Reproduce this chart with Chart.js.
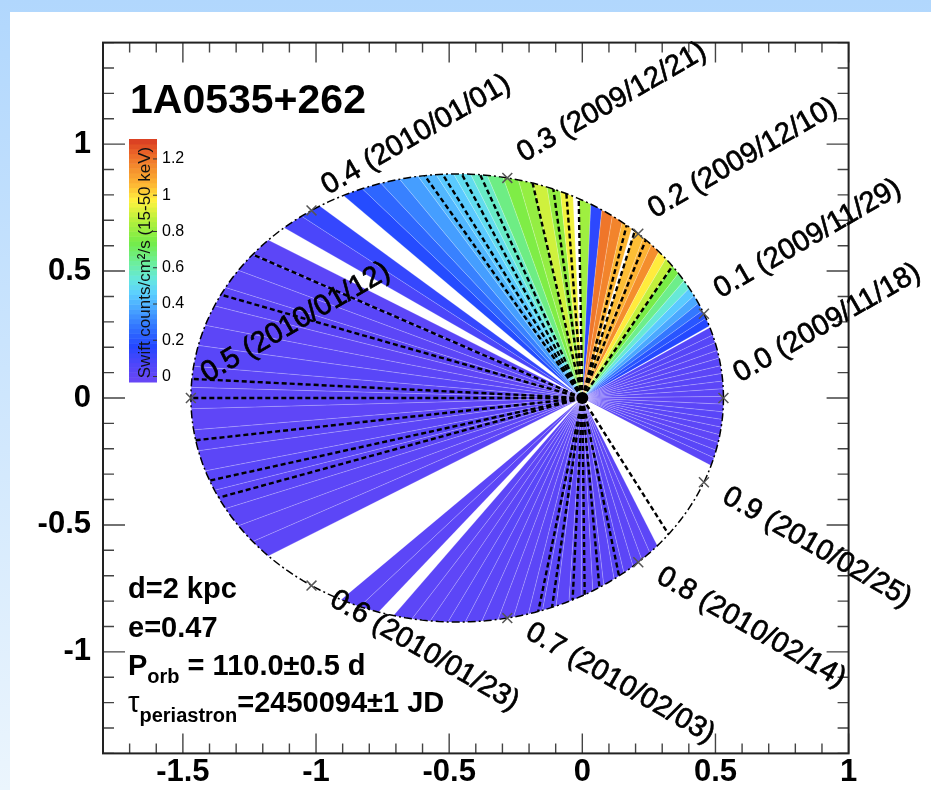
<!DOCTYPE html>
<html>
<head>
<meta charset="utf-8">
<script src="https://cdn.jsdelivr.net/npm/chart.js@4.4.1/dist/chart.umd.min.js"></script>
<style>
  html, body { margin: 0; padding: 0; }
  body { width: 931px; height: 790px; overflow: hidden; position: relative;
         background: linear-gradient(to bottom, #b1d7fd, #ebf5fd); }
  #panel { position: absolute; left: 10px; top: 12px; width: 921px; height: 778px; background: #fff; }
  canvas { display: block; }
</style>
</head>
<body>
<div id="panel"><canvas id="orbit" width="921" height="778"></canvas></div>
<script>
// orbit of 1A0535+262 (values from the plot labels)
const ecc = 0.47;
const semiMajor = 1.0;
const period = 110;          // days, phase 0 = periastron 2009/11/18

// Swift/BAT daily bins: start day after periastron, and rate (counts/cm2/s, 15-50 keV)
const binStart = [
  -8.8, -7.8, -6.8, -5.8, -4.8, -3.8, -2.8, -1.8, -0.8, 0.2, 1.2, 2.2, 3.2, 4.2, 5.2, 6.2, 7.2, 8.2,
  9.4, 10.4, 11.4, 12.4, 13.4, 14.4, 15.4, 16.4, 17.4, 18.4, 19.4, 20.4, 21.4,
  22.77, 23.77, 24.77, 25.77, 26.77, 28.27, 29.27, 30.27, 31.27, 32.27, 33.27, 34.27, 35.27,
  36.27, 37.27, 38.27, 39.27, 40.27, 41.27,
  43.55, 44.55,
  46.5, 47.5, 48.5, 49.5, 50.5, 51.5, 52.5, 53.5, 54.5, 55.5, 56.5, 57.5, 58.5, 59.5, 60.5, 61.5, 62.5,
  67.6, 68.6,
  70.4, 71.4, 72.4, 73.4, 74.4, 75.4, 76.4, 77.4, 78.4, 79.4, 80.4, 81.4, 82.4, 83.4, 84.4, 85.4,
  86.4, 87.4, 88.4, 89.4
];
const binRate = [
  0.02, 0.03, 0.02, 0.01, 0.02, 0.02, 0.03, 0.02, 0.01, 0.02, 0.02, 0.03, 0.02, 0.03, 0.02, 0.03, 0.04, 0.04,
  0.17, 0.2, 0.28, 0.38, 0.45, 0.55, 0.65, 0.75, 0.88, 0.98, 1.15, 1.07, 1.05,
  1.06, 1.17, 1.2, 0.15, 0.82, 0.95, 0.8, 0.9, 0.8, 0.76, 0.66, 0.57, 0.5,
  0.45, 0.41, 0.36, 0.3, 0.24, 0.18,
  0.13, 0.08,
  0.02, 0.03, 0.02, 0.02, 0.01, 0.02, 0.03, 0.02, 0.02, 0.01, 0.02, 0.02, 0.03, 0.02, 0.02, 0.01, 0.02,
  0.02, 0.02,
  0.02, 0.01, 0.02, 0.03, 0.02, 0.02, 0.01, 0.02, 0.02, 0.03, 0.02, 0.02, 0.01, 0.02, 0.02, 0.03,
  0.02, 0.02, 0.01, 0.02
];
const binWidth = 1;

// pointed observations (dashed lines), day after periastron
const pointingDay = [17.4, 21.1, 22.4, 23.3, 27.8, 28.8, 29.8, 31.3, 34.7, 35.8, 36.9, 37.9,
  47.5, 49.9, 54.1, 55.0, 57.0, 59.0, 59.9, 79.1, 80.1, 81.7, 82.7, 84.0, 85.9, 92.0];

// orbital phase marks
const phaseTicks = [0.0, 0.1, 0.2, 0.3, 0.4, 0.5, 0.6, 0.7, 0.8, 0.9];
const phaseDates = ['2009/11/18', '2009/11/29', '2009/12/10', '2009/12/21', '2010/01/01',
  '2010/01/12', '2010/01/23', '2010/02/03', '2010/02/14', '2010/02/25'];

// axes
const xTickValues = [-1.5, -1, -0.5, 0, 0.5, 1];
const yTickValues = [-1, -0.5, 0, 0.5, 1];
const colorTicks = [0, 0.2, 0.4, 0.6, 0.8, 1, 1.2];
const colorMin = -0.03, colorMax = 1.31;

// palette (value, colour)
const paletteStops = [
  [-0.03, '#6a46f5'], [0.08, '#4b46fa'], [0.17, '#2448ff'], [0.28, '#3377ff'], [0.38, '#4aa8ff'],
  [0.46, '#5ccfff'], [0.54, '#66e8dd'], [0.63, '#6cee9a'], [0.74, '#74ec48'], [0.86, '#b4f03c'],
  [0.97, '#fff23e'], [1.06, '#fdb734'], [1.16, '#f3892c'], [1.24, '#ea6228'], [1.31, '#d83a22']
];

function hexRgb(h) { return [1, 3, 5].map(i => parseInt(h.substr(i, 2), 16)); }
function rateColor(v) {
  const t = Math.max(colorMin, Math.min(colorMax, v));
  for (let i = 1; i < paletteStops.length; i++) {
    if (t <= paletteStops[i][0]) {
      const [v0, c0] = paletteStops[i - 1], [v1, c1] = paletteStops[i];
      const f = (t - v0) / (v1 - v0), a = hexRgb(c0), b = hexRgb(c1);
      return 'rgb(' + a.map((c, k) => Math.round(c + (b[k] - c) * f)).join(',') + ')';
    }
  }
  return paletteStops[paletteStops.length - 1][1];
}

// position on the orbit, focus at the origin (phase taken as true anomaly)
function rimPoint(day) {
  const nu = 2 * Math.PI * day / period;
  const r = semiMajor * (1 - ecc * ecc) / (1 + ecc * Math.cos(nu));
  return {x: r * Math.cos(nu), y: r * Math.sin(nu)};
}

const focus = {x: 0, y: 0};

const wedgeSets = binStart.map((s, i) => {
  const pts = [focus];
  for (let k = 0; k <= 4; k++) pts.push(rimPoint(s + binWidth * k / 4));
  pts.push(focus);
  return {
    data: pts, fill: 'shape', backgroundColor: rateColor(binRate[i]),
    borderColor: 'rgba(255,255,255,0.3)', borderWidth: 0.6, pointRadius: 0, order: 5
  };
});

const pointingSets = pointingDay.map(d => ({
  data: [focus, rimPoint(d)], borderColor: '#000', borderWidth: 2.4, borderDash: [5, 3],
  pointRadius: 0, fill: false, order: 3
}));

const orbitPts = [];
for (let k = 0; k <= 240; k++) orbitPts.push(rimPoint(period * k / 240));

const datasets = [
  {data: [focus], showLine: false, pointRadius: 6, pointBackgroundColor: '#000', pointBorderWidth: 0, order: 0},
  {data: phaseTicks.map(p => rimPoint(p * period)), showLine: false, pointStyle: 'crossRot',
   pointRadius: 7, pointBorderColor: '#555', pointBorderWidth: 1.5, order: 1},
  {data: orbitPts, borderColor: '#000', borderWidth: 1.5, borderDash: [8, 3, 2, 3],
   pointRadius: 0, fill: false, order: 2},
  ...pointingSets,
  ...wedgeSets
];

function textWithSub(ctx, x, y, parts) {
  // parts: [text, font, dy]
  let cx = x;
  parts.forEach(([t, f, dy]) => {
    ctx.font = f;
    ctx.fillText(t, cx, y + dy);
    cx += ctx.measureText(t).width;
  });
}

const decor = {
  id: 'decor',
  afterDraw(chart) {
    const {ctx, chartArea: a, scales: {x, y}} = chart;
    ctx.save();

    // frame and inner ticks on all four sides
    ctx.strokeStyle = '#444';
    ctx.lineWidth = 1.4;
    ctx.beginPath();
    for (let v = -1.8; v <= 1.0001; v += 0.1) {
      const px = x.getPixelForValue(v);
      const major = xTickValues.some(t => Math.abs(t - v) < 1e-6);
      const len = major ? 20 : 10;
      ctx.moveTo(px, a.bottom); ctx.lineTo(px, a.bottom - len);
      ctx.moveTo(px, a.top); ctx.lineTo(px, a.top + len);
    }
    for (let v = -1.4; v <= 1.4001; v += 0.1) {
      const py = y.getPixelForValue(v);
      const major = yTickValues.some(t => Math.abs(t - v) < 1e-6);
      const len = major ? 22 : 11;
      ctx.moveTo(a.left, py); ctx.lineTo(a.left + len, py);
      ctx.moveTo(a.right, py); ctx.lineTo(a.right - len, py);
    }
    ctx.stroke();
    ctx.strokeStyle = '#222';
    ctx.lineWidth = 2;
    ctx.strokeRect(a.left, a.top, a.right - a.left, a.bottom - a.top);

    // phase labels
    ctx.fillStyle = '#000';
    ctx.strokeStyle = '#000';
    ctx.lineWidth = 0.7;
    ctx.font = '29px "Liberation Sans", Arial, sans-serif';
    ctx.textBaseline = 'middle';
    ctx.textAlign = 'left';
    phaseTicks.forEach((p, i) => {
      const pt = rimPoint(p * period);
      const px = x.getPixelForValue(pt.x), py = y.getPixelForValue(pt.y);
      const upper = p <= 0.5;
      const label = p.toFixed(1) + ' (' + phaseDates[i] + ')';
      ctx.save();
      ctx.translate(px, py);
      ctx.rotate(upper ? -Math.PI / 6 : Math.PI / 6);
      ctx.fillText(label, upper ? 22 : 24, upper ? -13 : 0);
      ctx.strokeText(label, upper ? 22 : 24, upper ? -13 : 0);
      ctx.restore();
    });

    // title
    ctx.textBaseline = 'alphabetic';
    ctx.font = 'bold 41px "Liberation Sans", Arial, sans-serif';
    ctx.fillText('1A0535+262', 120, 101);

    // orbit parameters
    const bold = 'bold 29px "Liberation Sans", Arial, sans-serif';
    const sub = 'bold 20px "Liberation Sans", Arial, sans-serif';
    ctx.font = bold;
    ctx.fillText('d=2 kpc', 118, 586);
    ctx.fillText('e=0.47', 118, 625);
    textWithSub(ctx, 118, 663, [['P', bold, 0], ['orb', sub, 8], [' = 110.0\u00b10.5 d', bold, 0]]);
    textWithSub(ctx, 118, 700, [['\u03c4', '29px "Liberation Sans", Arial, sans-serif', 0],
      ['periastron', sub, 10], ['=2450094\u00b11 JD', bold, 0]]);

    // colour bar
    const cbL = 119, cbR = 147, cbT = 127, cbB = 370;
    const cbY = v => cbB - (v - colorMin) / (colorMax - colorMin) * (cbB - cbT);
    const nBands = 50;
    for (let k = 0; k < nBands; k++) {
      const v0 = colorMin + (colorMax - colorMin) * k / nBands;
      const v1 = colorMin + (colorMax - colorMin) * (k + 1) / nBands;
      ctx.fillStyle = rateColor((v0 + v1) / 2);
      ctx.fillRect(cbL, cbY(v1), cbR - cbL, cbY(v0) - cbY(v1) + 0.5);
    }
    ctx.strokeStyle = '#333';
    ctx.lineWidth = 1;
    ctx.beginPath();
    colorTicks.forEach(v => { ctx.moveTo(cbR, cbY(v)); ctx.lineTo(cbR - 4, cbY(v)); });
    ctx.stroke();
    ctx.fillStyle = '#000';
    ctx.font = '16px "Liberation Sans", Arial, sans-serif';
    ctx.textBaseline = 'middle';
    colorTicks.forEach(v => ctx.fillText(String(v), cbR + 5, cbY(v)));
    ctx.save();
    ctx.translate(135, (cbT + cbB) / 2 + 2);
    ctx.rotate(-Math.PI / 2);
    ctx.textAlign = 'center';
    ctx.font = '17px "Liberation Sans", Arial, sans-serif';
    ctx.fillStyle = '#111';
    ctx.fillText('Swift counts/cm\u00b2/s (15-50 keV)', 0, 0);
    ctx.restore();

    ctx.restore();
  }
};

Chart.defaults.font.family = '"Liberation Sans", Arial, sans-serif';

new Chart(document.getElementById('orbit'), {
  type: 'line',
  data: {datasets},
  options: {
    responsive: false,
    animation: false,
    events: [],
    layout: {padding: {left: 0, top: 24.6, right: 82.4, bottom: 0}},
    plugins: {legend: {display: false}, tooltip: {enabled: false}},
    scales: {
      x: {
        type: 'linear', min: -1.8, max: 1.0,
        grid: {display: false, drawTicks: false}, border: {display: false},
        afterBuildTicks: s => { s.ticks = xTickValues.map(v => ({value: v})); },
        afterFit: s => { s.height = 36.6; },
        ticks: {font: {size: 31, weight: 'bold'}, color: '#000', padding: 0, maxRotation: 0,
                autoSkip: false, callback: v => String(v)}
      },
      y: {
        type: 'linear', min: -1.4, max: 1.4,
        grid: {display: false, drawTicks: false}, border: {display: false},
        afterBuildTicks: s => { s.ticks = yTickValues.map(v => ({value: v})); },
        afterFit: s => { s.width = 93; },
        ticks: {font: {size: 31, weight: 'bold'}, color: '#000', padding: 12,
                autoSkip: false, callback: v => String(v)}
      }
    }
  },
  plugins: [decor]
});
</script>
</body>
</html>
